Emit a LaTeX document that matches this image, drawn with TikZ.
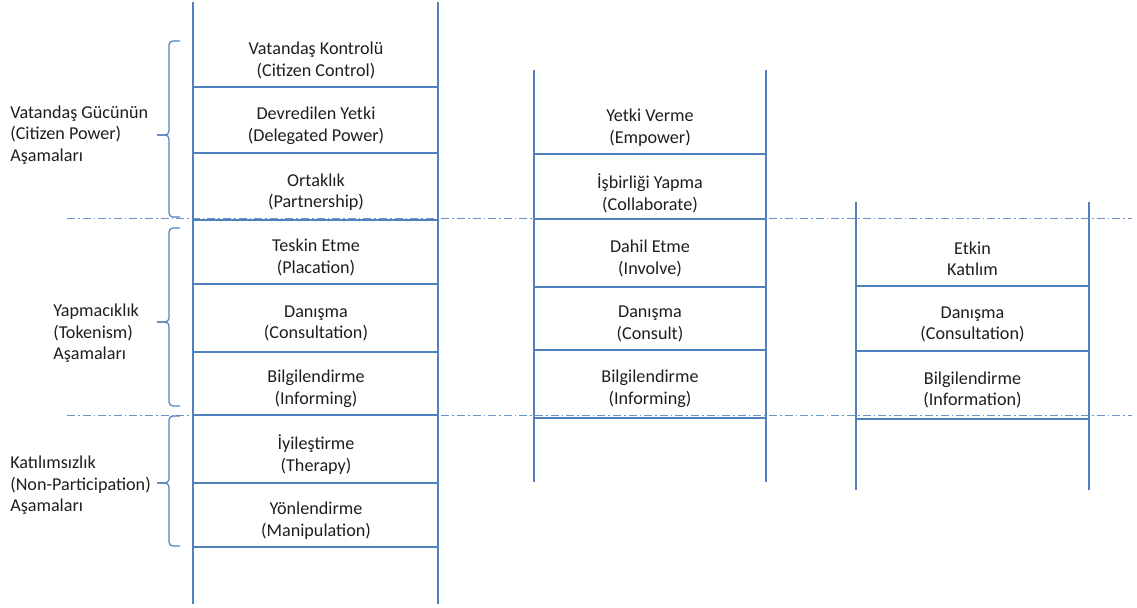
\documentclass[tikz,border=0pt]{standalone}
\usepackage{fontspec}
\setmainfont{Carlito}
\usepackage{tikz}
\usetikzlibrary{calc}
\definecolor{ladderblue}{RGB}{79,129,189}
\definecolor{textgray}{RGB}{30,30,30}

\begin{document}
\begin{tikzpicture}[x=0.75pt,y=-0.75pt,
  rail/.style={ladderblue, line width=1.1pt},
  divider/.style={ladderblue!85, line width=0.6pt, dash pattern=on 6pt off 2.3pt on 1.1pt off 2.3pt},
  bracket/.style={ladderblue, line width=0.9pt, rounded corners=3pt},
  stage/.style={align=center, text=textgray, inner sep=0pt, yshift=-1.1pt, font=\fontsize{13.6}{16.1}\selectfont},
  group/.style={align=left, anchor=west, text=textgray, inner sep=0pt, yshift=-1.1pt, font=\fontsize{13.6}{16.1}\selectfont}]
\useasboundingbox (0,0) rectangle (1137,607);
\draw[divider] (67,218) -- (1132,218);
\draw[divider] (67,415) -- (1132,415);
\draw[rail] (193,2) -- (193,604);
\draw[rail] (438,2) -- (438,604);
\draw[rail] (193,87) -- (438,87);
\draw[rail] (193,153) -- (438,153);
\draw[rail] (193,220) -- (438,220);
\draw[rail] (193,284) -- (438,284);
\draw[rail] (193,352) -- (438,352);
\draw[rail] (193,415) -- (438,415);
\draw[rail] (193,483) -- (438,483);
\draw[rail] (193,547) -- (438,547);
\draw[rail] (534,70) -- (534,482);
\draw[rail] (766,70) -- (766,482);
\draw[rail] (534,154) -- (766,154);
\draw[rail] (534,219) -- (766,219);
\draw[rail] (534,287) -- (766,287);
\draw[rail] (534,350) -- (766,350);
\draw[rail] (534,418) -- (766,418);
\draw[rail] (856,202) -- (856,490);
\draw[rail] (1089,202) -- (1089,490);
\draw[rail] (856,286) -- (1089,286);
\draw[rail] (856,351) -- (1089,351);
\draw[rail] (856,419) -- (1089,419);
\node[stage] (control) at (316,59) {Vatandaş Kontrolü\\(Citizen Control)};
\node[stage] (delegated) at (316,124.5) {Devredilen Yetki\\(Delegated Power)};
\node[stage] (partner) at (316,190.5) {Ortaklık\\(Partnership)};
\node[stage] (placation) at (316,256) {Teskin Etme\\(Placation)};
\node[stage] (consultation) at (316,322) {Danışma\\(Consultation)};
\node[stage] (informing) at (316,387.5) {Bilgilendirme\\(Informing)};
\node[stage] (therapy) at (316,453) {İyileştirme\\(Therapy)};
\node[stage] (manipulation) at (316,519) {Yönlendirme\\(Manipulation)};
\node[stage] (empower) at (650,126) {Yetki Verme\\(Empower)};
\node[stage] (collaborate) at (650,192) {İşbirliği Yapma\\(Collaborate)};
\node[stage] (involve) at (650,257) {Dahil Etme\\(Involve)};
\node[stage] (consult) at (650,322.5) {Danışma\\(Consult)};
\node[stage] (inform) at (650,387.5) {Bilgilendirme\\(Informing)};
\node[stage] (active) at (972.5,257.5) {Etkin\\Katılım};
\node[stage] (consult2) at (972.5,323) {Danışma\\(Consultation)};
\node[stage] (information) at (972.5,388.5) {Bilgilendirme\\(Information)};
\node[group] (power) at (10,133.5) {Vatandaş Gücünün\\(Citizen Power)\\Aşamaları};
\node[group] (tokenism) at (53,332) {Yapmacıklık\\(Tokenism)\\Aşamaları};
\node[group] (nonpart) at (10,484) {Katılımsızlık\\(Non-Participation)\\Aşamaları};
\draw[bracket] (180,41) -| (169,135) -- (157,135);
\draw[bracket] (180,217) -| (169,135) -- (157,135);
\draw[bracket] (180,228) -| (169,322) -- (157,322);
\draw[bracket] (180,406) -| (169,322) -- (157,322);
\draw[bracket] (180,416) -| (169,483) -- (157,483);
\draw[bracket] (180,546) -| (169,483) -- (157,483);
\end{tikzpicture}
\end{document}
